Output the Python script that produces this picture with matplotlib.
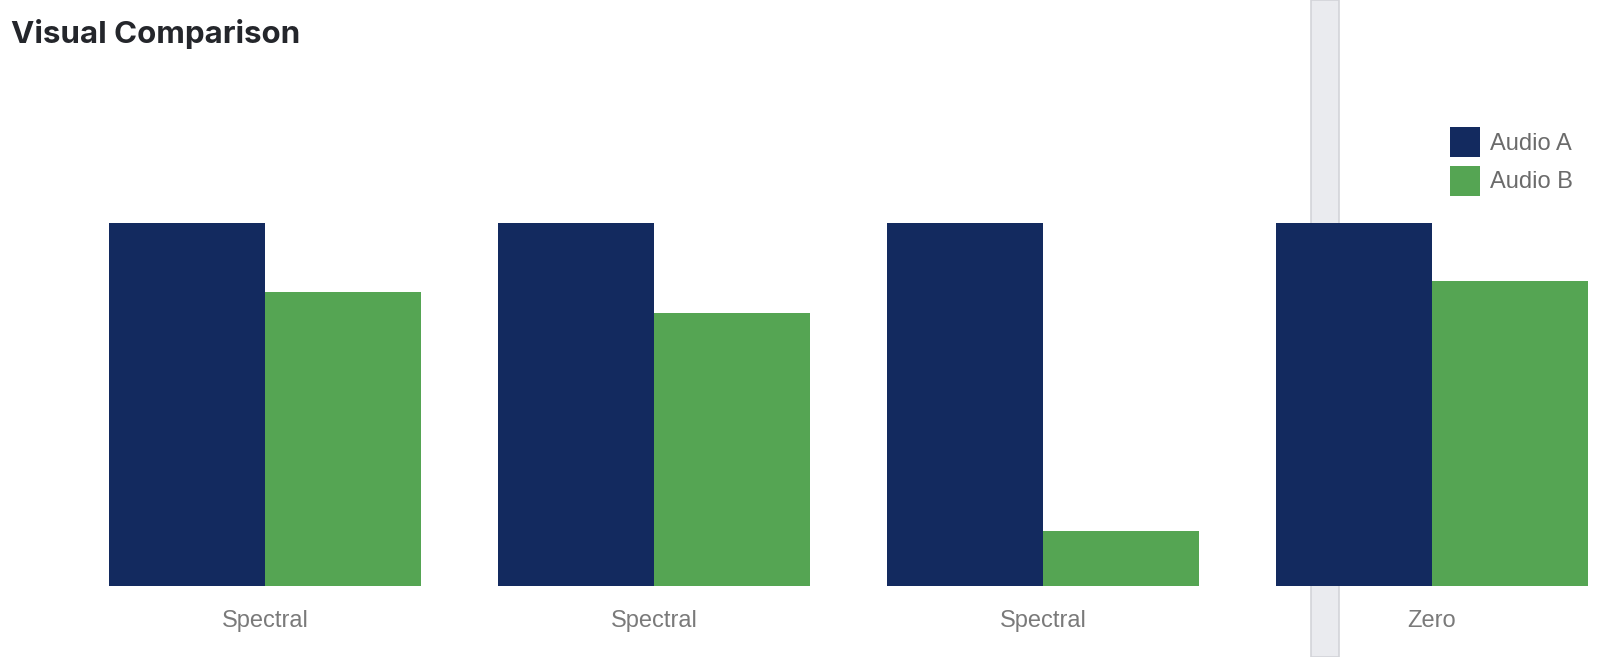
import matplotlib.pyplot as plt
import numpy as np
from matplotlib.patches import Rectangle

categories = ["Spectral", "Spectral", "Spectral", "Zero"]
audio_a = [100, 100, 100, 100]
audio_b = [81, 75, 15, 84]
series_names = ["Audio A", "Audio B"]

navy = "#132a5f"
green = "#55a553"

W, H = 1615, 657
fig = plt.figure(figsize=(W / 100, H / 100), dpi=100)
fig.patch.set_facecolor("white")

# grey strip sitting behind the chart
fig.patches.append(Rectangle((1311 / W, 0), 28 / W, 1, transform=fig.transFigure,
                             facecolor="#eaebef", edgecolor="#d3d4d9", lw=1.2, zorder=-1))

base_y = 586
top_y = 100
ax = fig.add_axes([0, (H - base_y) / H, 1, (base_y - top_y) / H])
ax.set_zorder(1)
ax.patch.set_alpha(0)

x = np.arange(len(categories))
spacing = 389
bw = 0.4
ax.bar(x - bw / 2, audio_a, bw, color=navy, label=series_names[0])
ax.bar(x + bw / 2, audio_b, bw, color=green, label=series_names[1])

ax.set_xlim(-265 / spacing, (W - 265) / spacing)
ax.set_ylim(0, 100 * (base_y - top_y) / 363.5)
for s in ax.spines.values():
    s.set_visible(False)
ax.set_yticks([])
ax.set_xticks(x)
ax.set_xticklabels(categories, fontsize=17, color="#7a7a7a", family="Liberation Sans")
ax.tick_params(axis="x", length=0, pad=17)

leg = ax.legend(loc="upper left", bbox_to_anchor=(1450 / W, 1 - 127 / H),
                bbox_transform=fig.transFigure, frameon=False, borderpad=0,
                borderaxespad=0, handlelength=1.27, handleheight=1.58,
                handletextpad=0.42, labelspacing=0.36,
                prop={"family": "Liberation Sans", "size": 17})
for t in leg.get_texts():
    t.set_color("#6b6b6b")

fig.text(11 / W, 1 - 34 / H, "Visual Comparison", fontsize=22.5, fontweight="bold",
         color="#24262b", family="Inter", va="center", ha="left")

fig.savefig("out.png", dpi=100)
